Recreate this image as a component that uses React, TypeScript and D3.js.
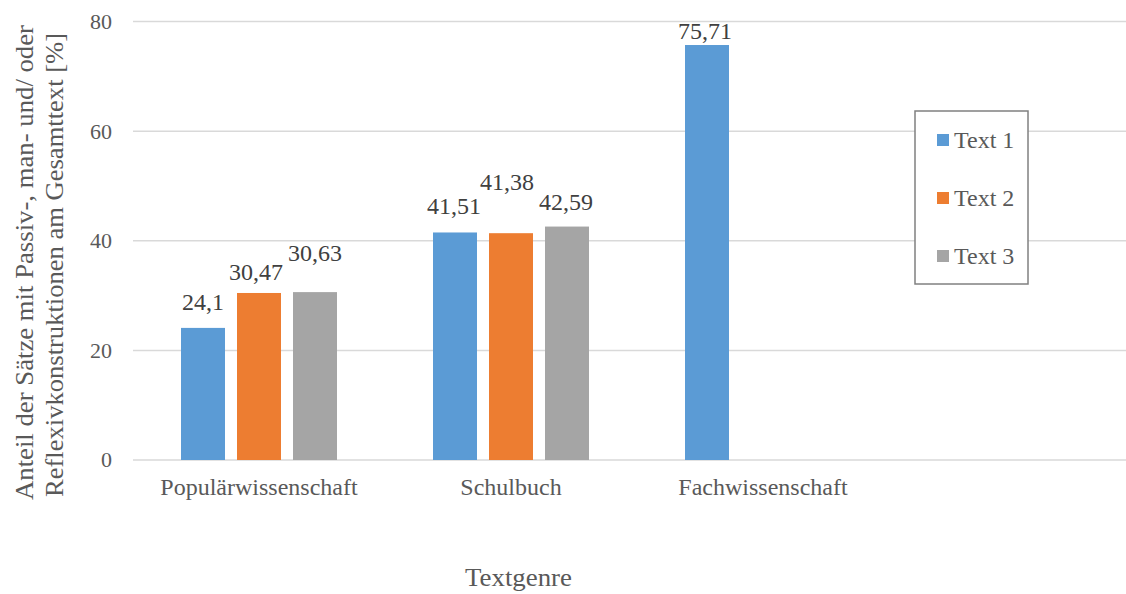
import React from "react";
import * as d3 from "d3";

const categories = ["Populärwissenschaft", "Schulbuch", "Fachwissenschaft", ""];
const seriesNames = ["Text 1", "Text 2", "Text 3"];
const text1 = [24.1, 41.51, 75.71];
const text2 = [30.47, 41.38, null];
const text3 = [30.63, 42.59, null];
const yTicks = [0, 20, 40, 60, 80];
const colors = ["#5B9BD5", "#ED7D31", "#A5A5A5"];
// label gap (px above bar top) per series, per category
const labelGap = [
  [18, 18, 6],
  [13, 43, 0],
  [31, 17, 0],
];
const labelDx = [
  [0, -1, -2],
  [-3, -4, 0],
  [0, -1, 0],
];

const fmt = (v: number) => String(v).replace(".", ",");
const FONT = "Liberation Serif, Times New Roman, DejaVu Serif, serif";

export default function App() {
  const W = 1126;
  const H = 594;
  const plotLeft = 133;
  const plotRight = 1126;
  const x0 = d3.scaleBand<string>().domain(categories).range([133, 1141]);
  const x1 = d3
    .scaleBand<string>()
    .domain(seriesNames)
    .range([-78, 78])
    .paddingInner(12 / 56);
  const y = d3.scaleLinear().domain([0, 80]).range([460, 21.5]);
  const series = [text1, text2, text3];
  const ts = { fontFamily: FONT };

  return (
    <svg
      width={W}
      height={H}
      style={{ position: "absolute", left: 0, top: 0, background: "#fff", fontFamily: FONT }}
    >
      {yTicks.map((t) => (
        <g key={t}>
          <line
            x1={plotLeft}
            x2={plotRight}
            y1={y(t)}
            y2={y(t)}
            stroke="#d9d9d9"
            strokeWidth={1.5}
          />
          <text
            x={112}
            y={y(t)}
            dy="0.34em"
            textAnchor="end"
            fontSize={22}
            fill="#595959"
            style={ts}
          >
            {t}
          </text>
        </g>
      ))}
      {series.map((vals, si) =>
        vals.map((v, ci) => {
          if (v == null) return null;
          const cx = (x0(categories[ci]) as number) + x0.bandwidth() / 2;
          const bx = cx + (x1(seriesNames[si]) as number);
          const top = y(v);
          return (
            <g key={`${si}-${ci}`}>
              <rect
                x={bx}
                y={top}
                width={x1.bandwidth()}
                height={y(0) - top}
                fill={colors[si]}
              />
              <text
                x={bx + x1.bandwidth() / 2 + labelDx[si][ci]}
                y={top - labelGap[si][ci]}
                textAnchor="middle"
                fontSize={24}
                fill="#404040"
                style={ts}
              >
                {fmt(v)}
              </text>
            </g>
          );
        })
      )}
      {categories.map((c) =>
        c ? (
          <text
            key={c}
            x={(x0(c) as number) + x0.bandwidth() / 2}
            y={495}
            textAnchor="middle"
            fontSize={24}
            fill="#595959"
            style={ts}
          >
            {c}
          </text>
        ) : null
      )}
      <text
        x={465}
        y={586}
        fontSize={26}
        fill="#595959"
        style={ts}
        textLength={107}
        lengthAdjust="spacingAndGlyphs"
      >
        Textgenre
      </text>
      <g transform="rotate(-90)">
        <text
          x={-500}
          y={33}
          fontSize={25}
          fill="#595959"
          style={ts}
          textLength={475}
          lengthAdjust="spacingAndGlyphs"
        >
          Anteil der Sätze mit Passiv-, man- und/ oder
        </text>
        <text
          x={-497}
          y={63}
          fontSize={25}
          fill="#595959"
          style={ts}
          textLength={464}
          lengthAdjust="spacingAndGlyphs"
        >
          Reflexivkonstruktionen am Gesamttext [%]
        </text>
      </g>
      <rect
        x={915}
        y={111}
        width={113}
        height={173}
        fill="#fff"
        stroke="#808080"
        strokeWidth={1.5}
      />
      {seriesNames.map((s, i) => (
        <g key={s}>
          <rect x={937} y={134 + i * 58} width={12} height={12} fill={colors[i]} />
          <text x={954} y={148 + i * 58} fontSize={24} fill="#595959" style={ts}>
            {s}
          </text>
        </g>
      ))}
    </svg>
  );
}
